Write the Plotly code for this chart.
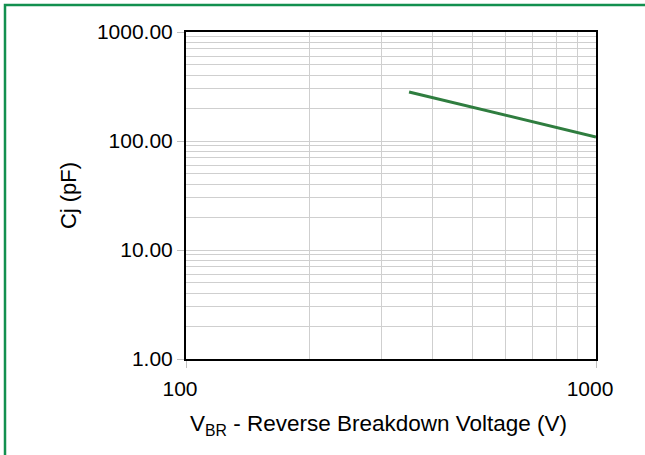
import plotly.graph_objects as go

# Data (log-log)
vbr = [350, 400, 450, 500, 600, 700, 800, 900, 1000]
cj = [282, 250, 225, 204, 173, 150, 133, 120, 109]

x_ticks = [100, 1000]
x_tick_text = ["100", "1000"]
y_ticks = [1, 10, 100, 1000]
y_tick_text = ["1.00", "10.00", "100.00", "1000.00"]
x_minor = [200, 300, 400, 500, 600, 700, 800, 900]
y_minor = [m * d for d in (1, 10, 100) for m in range(2, 10)]

FONT = "Liberation Sans, Arial, sans-serif"
GRID = "#cfcfcf"

fig = go.Figure()
fig.add_trace(go.Scatter(
    x=vbr, y=cj, mode="lines",
    line=dict(color="#2f7d3f", width=3),
    showlegend=False,
))

fig.update_layout(
    width=645, height=455,
    margin=dict(l=186, r=49, t=32, b=96),
    paper_bgcolor="white", plot_bgcolor="white",
    font=dict(family=FONT, size=21, color="black"),
    xaxis=dict(
        type="log", range=[2, 3],
        tickvals=x_ticks, ticktext=x_tick_text,
        ticks="outside", ticklen=7, tickcolor="#bfbfbf",
        showgrid=True, gridcolor=GRID, gridwidth=1,
        minor=dict(tickvals=x_minor, showgrid=True, gridcolor=GRID, ticks=""),
        showline=True, linecolor="black", linewidth=2, mirror=True,
        tickfont=dict(size=21),
        ticklabelstandoff=3, ticklabelshift=-6,
        zeroline=False,
    ),
    yaxis=dict(
        type="log", range=[0, 3],
        tickvals=y_ticks, ticktext=y_tick_text,
        ticks="outside", ticklen=7, tickcolor="#bfbfbf",
        showgrid=True, gridcolor=GRID, gridwidth=1,
        minor=dict(tickvals=y_minor, showgrid=True, gridcolor=GRID, ticks=""),
        showline=True, linecolor="black", linewidth=2, mirror=True,
        tickfont=dict(size=21),
        title=dict(text="Cj (pF)", font=dict(size=22), standoff=14),
        zeroline=False,
    ),
    annotations=[dict(
        text="V<sub>BR</sub> - Reverse Breakdown Voltage (V)",
        xref="paper", yref="paper",
        x=(378 - 186) / 410, y=(359 - 425) / 327,
        xanchor="center", yanchor="middle", showarrow=False,
        font=dict(size=22.5, family=FONT, color="black"),
    )],
    shapes=[dict(
        type="rect", xref="paper", yref="paper",
        x0=(5 - 186) / 410, x1=(660 - 186) / 410,
        y0=(359 - 470) / 327, y1=(359 - 5) / 327,
        line=dict(color="#13904f", width=2.5), fillcolor="rgba(0,0,0,0)",
        layer="below",
    )],
)

fig.write_html(
    "out.html",
    config={"displayModeBar": False},
    post_script="document.body.style.margin='0';document.body.style.overflow='hidden';",
)
